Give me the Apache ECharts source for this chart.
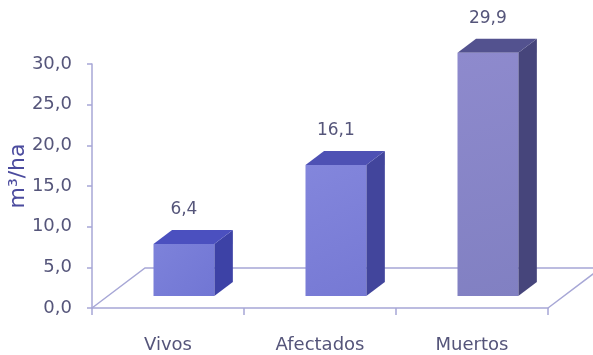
<!DOCTYPE html>
<html>
<head>
<meta charset="utf-8">
<script src="https://cdn.jsdelivr.net/npm/echarts@6/dist/echarts.min.js"></script>
<style>
  html, body { margin: 0; padding: 0; background: #ffffff; }
  #chart { width: 593px; height: 355px; }
</style>
</head>
<body>
<div id="chart"></div>
<script>
// Volume of wood per hectare by tree condition
const categories = ['Vivos', 'Afectados', 'Muertos'];
const volumes = [6.4, 16.1, 29.9];
const yMin = 0, yMax = 30, yStep = 5;

// Face colours per column: front (light), front (shade), top, side
const faceColors = [
  ['#7d82da', '#7176d4', '#4b50bf', '#3d42a6'],
  ['#8386dc', '#7679d4', '#4e51b4', '#42459c'],
  ['#8e8acd', '#8180c2', '#53528f', '#46457b']
];

// Perspective depth of the floor (px) and the slice of it the columns occupy
const DEPTH = [53, -40];
const FRONT = 0.3, BACK = 0.65;
const LINE = '#a7a7d6';
const TEXT = '#55557a';
const FONT = 'DejaVu Sans';

const fmt = v => v.toFixed(1).replace('.', ',');

const chart = echarts.init(document.getElementById('chart'), null, { renderer: 'canvas' });

chart.setOption({
  animation: false,
  backgroundColor: '#ffffff',
  grid: { left: 92, right: 45, top: 64, bottom: 47 },
  xAxis: {
    type: 'category',
    data: categories,
    boundaryGap: true,
    axisLine: { lineStyle: { color: LINE, width: 1.5 } },
    axisTick: { show: true, length: 7, lineStyle: { color: LINE, width: 1.5 } },
    axisLabel: { color: TEXT, fontFamily: FONT, fontSize: 18, margin: 28 }
  },
  yAxis: {
    type: 'value',
    min: yMin, max: yMax, interval: yStep,
    axisLine: { show: true, lineStyle: { color: LINE, width: 1.5 } },
    axisTick: { show: true, length: 5, lineStyle: { color: LINE, width: 1.5 } },
    splitLine: { show: false },
    axisLabel: { color: TEXT, fontFamily: FONT, fontSize: 18, margin: 20, formatter: fmt }
  },
  graphic: [{
    type: 'text',
    x: 18, y: 176,
    rotation: Math.PI / 2,
    style: {
      text: 'm³/ha',
      fill: '#4b4b9e',
      font: '22px "DejaVu Sans"',
      textAlign: 'center',
      textVerticalAlign: 'middle'
    }
  }],
  series: [
    {
      // floor of the 3-D plot area
      type: 'custom',
      z: 1,
      silent: true,
      data: [[0, 0]],
      renderItem: (params, api) => {
        const cs = params.coordSys;
        const fy = cs.y + cs.height;
        const fl = [cs.x, fy], fr = [cs.x + cs.width, fy];
        const bl = [fl[0] + DEPTH[0], fy + DEPTH[1]];
        const br = [fr[0] + DEPTH[0], fy + DEPTH[1]];
        return {
          type: 'polyline',
          shape: { points: [fl, bl, br, fr] },
          style: { stroke: LINE, lineWidth: 1.5, fill: null }
        };
      }
    },
    {
      // 3-D columns with value labels
      type: 'custom',
      z: 3,
      data: volumes.map((v, i) => [i, v]),
      renderItem: (params, api) => {
        const idx = api.value(0);
        const v = api.value(1);
        const base = api.coord([idx, 0]);
        const top = api.coord([idx, v]);
        const h = base[1] - top[1];
        const w = api.size([1, 0])[0] * 0.4;
        const x0 = base[0] - w / 2 + DEPTH[0] * FRONT;
        const y0 = base[1] + DEPTH[1] * FRONT;
        const dx = DEPTH[0] * (BACK - FRONT);
        const dy = DEPTH[1] * (BACK - FRONT);
        const c = faceColors[idx];
        const yt = y0 - h;
        return {
          type: 'group',
          children: [
            {
              type: 'polygon',
              shape: { points: [[x0 + w, y0], [x0 + w, yt], [x0 + w + dx, yt + dy], [x0 + w + dx, y0 + dy]] },
              style: { fill: c[3] }
            },
            {
              type: 'polygon',
              shape: { points: [[x0, yt], [x0 + w, yt], [x0 + w + dx, yt + dy], [x0 + dx, yt + dy]] },
              style: { fill: c[2] }
            },
            {
              type: 'rect',
              shape: { x: x0, y: yt, width: w, height: h },
              style: {
                fill: new echarts.graphic.LinearGradient(0, 0, 1, 1, [
                  { offset: 0, color: c[0] },
                  { offset: 1, color: c[1] }
                ])
              }
            },
            {
              type: 'text',
              x: x0 + w / 2,
              y: yt + dy - 12,
              style: {
                text: fmt(v),
                fill: TEXT,
                font: '17px "DejaVu Sans"',
                textAlign: 'center',
                textVerticalAlign: 'bottom'
              }
            }
          ]
        };
      }
    }
  ]
});
</script>
</body>
</html>
